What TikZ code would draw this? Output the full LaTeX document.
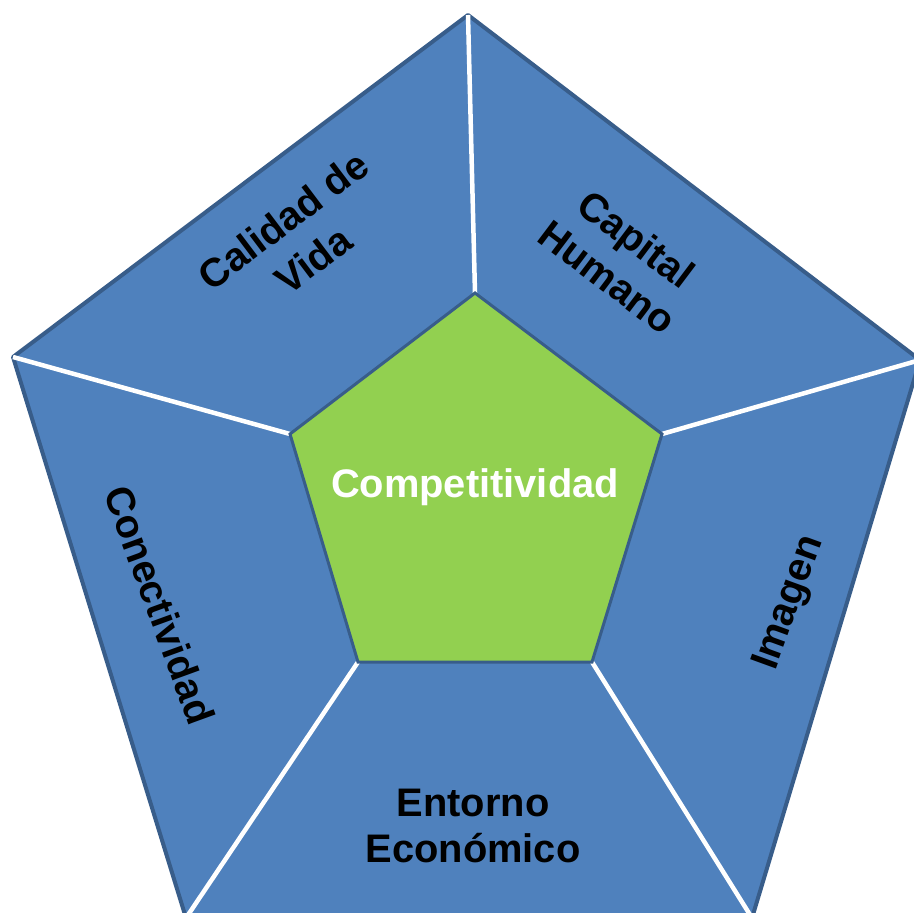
\documentclass[tikz,border=0pt]{standalone}
\usepackage{fontspec}
\setmainfont{Liberation Sans}
\definecolor{azul}{HTML}{4F81BD}
\definecolor{borde}{HTML}{385D8A}
\definecolor{verde}{HTML}{92D050}
\tikzset{etiqueta/.style={font=\fontsize{40}{46}\selectfont\bfseries,align=center}}

\begin{document}
\begin{tikzpicture}[x=1bp,y=-1bp]
        \useasboundingbox (0,0) rectangle (914,913);
        % pentagono exterior
       \coordinate (T) at (468,15);
       \coordinate (R) at (920,360);
       \coordinate (BR) at (752,918);
       \coordinate (BL) at (186,918);
       \coordinate (L) at (13,357);
        % pentagono interior
       \coordinate (IT) at (475,293);
       \coordinate (IR) at (662,434);
       \coordinate (IBR) at (592,662);
       \coordinate (IBL) at (358,662);
       \coordinate (IL) at (290,434);

        \filldraw[fill=azul,draw=borde,line width=4bp,line join=round](T)--(R)--(BR)--(BL)--(L)--cycle;
        \draw[white,line width=4.5bp](IT)--(T);
        \draw[white,line width=4.5bp](IR)--(R);
        \draw[white,line width=4.5bp](IBR)--(BR);
        \draw[white,line width=4.5bp](IBL)--(BL);
        \draw[white,line width=4.5bp](IL)--(L);
        \filldraw[fill=verde,draw=borde,line width=3bp](IT)--(IR)--(IBR)--(IBL)--(IL)--cycle;

        \node[etiqueta,white] (comp) at (475,487) {Competitividad};
        \node[etiqueta,rotate=37,font=\fontsize{40}{50}\selectfont\bfseries] (vida) at (298,240) {Calidad de\\Vida};
        \node[etiqueta,rotate=-37,font=\fontsize{40}{48}\selectfont\bfseries] (humano) at (622,258) {Capital\\Humano};
        \node[etiqueta,rotate=70] (imagen) at (790,603) {Imagen};
        \node[etiqueta,rotate=-70] (conect) at (160,605) {Conectividad};
        \node[etiqueta] (entorno) at (473,826) {Entorno\\Económico};
      \end{tikzpicture}
\end{document}
